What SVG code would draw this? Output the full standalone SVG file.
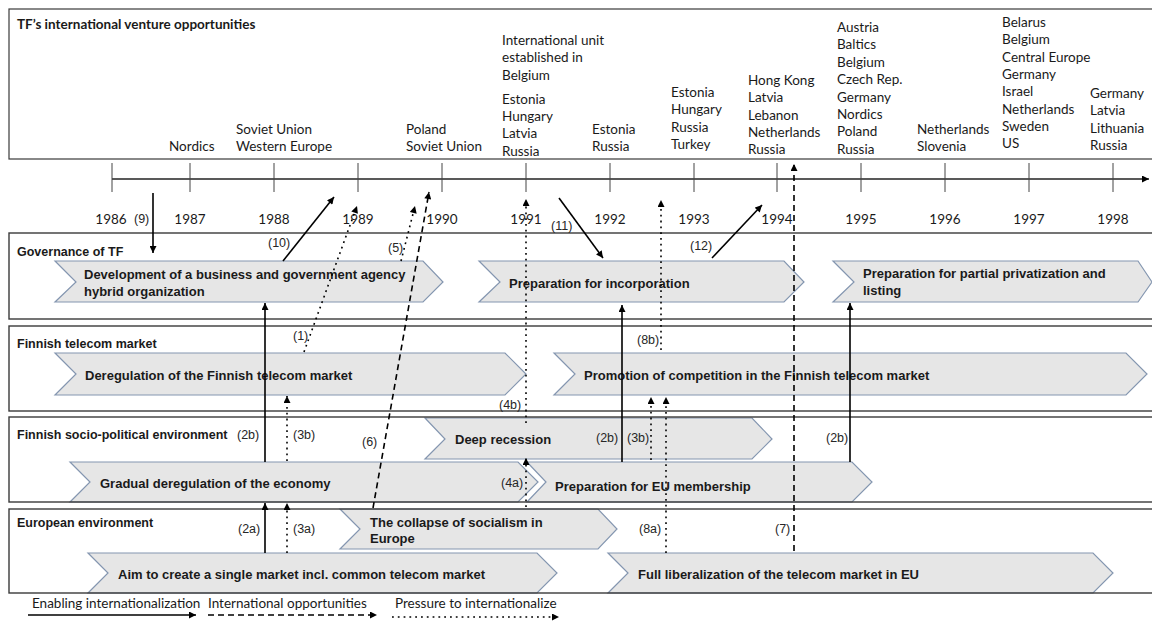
<svg xmlns="http://www.w3.org/2000/svg" width="1152" height="622" viewBox="0 0 1152 622">
<defs>
<style>
.cal{font-family:Lato,"Open Sans","DejaVu Sans",sans-serif;font-size:13.5px;fill:#1a1a1a}
.calb{font-family:Lato,"Open Sans","DejaVu Sans",sans-serif;font-size:13.5px;font-weight:bold;fill:#1a1a1a}
.lane{fill:none;stroke:#3a3a3a;stroke-width:1.4}
.lanebg{fill:#fff;stroke:none}
.lt{font-family:"Liberation Sans",Arial,sans-serif;font-size:12.5px;font-weight:bold;fill:#1a1a1a}
.chev{fill:#e6e6e6;stroke:#8496b0;stroke-width:1.2}
.ct{font-family:"Liberation Sans",Arial,sans-serif;font-size:13px;font-weight:bold;fill:#1a1a1a}
.num{font-family:"Liberation Sans",Arial,sans-serif;font-size:12.5px;fill:#262626}
.tick{stroke:#444;stroke-width:1}
.c{fill:none;stroke:#000;stroke-width:1.6}
.dash{stroke-dasharray:6 4}
.dot{stroke-dasharray:1.8 4}
</style>
<marker id="ah" viewBox="0 0 10 10" refX="10" refY="5" markerUnits="userSpaceOnUse" markerWidth="8" markerHeight="7" orient="auto">
<path d="M0,0 L10,5 L0,10 z" fill="#000"/>
</marker>
</defs>
<rect width="1152" height="622" fill="#fff"/>

<g id="opportunities">
<rect x="9" y="9" width="1160" height="150" fill="#fff" stroke="#3a3a3a" stroke-width="1.2"/>
<text class="calb" x="17" y="29">TF’s international venture opportunities</text>
<text class="cal" x="169" y="151">Nordics</text>
<text class="cal" x="236" y="134"><tspan x="236">Soviet Union</tspan><tspan x="236" dy="17.3">Western Europe</tspan></text>
<text class="cal" x="406" y="134"><tspan x="406">Poland</tspan><tspan x="406" dy="17.3">Soviet Union</tspan></text>
<text class="cal" x="502" y="45"><tspan x="502">International unit</tspan><tspan x="502" dy="17.3">established in</tspan><tspan x="502" dy="17.3">Belgium</tspan><tspan x="502" dy="24">Estonia</tspan><tspan x="502" dy="17.3">Hungary</tspan><tspan x="502" dy="17.3">Latvia</tspan><tspan x="502" dy="17.3">Russia</tspan></text>
<text class="cal" x="592" y="134"><tspan x="592">Estonia</tspan><tspan x="592" dy="17.3">Russia</tspan></text>
<text class="cal" x="671" y="97"><tspan x="671">Estonia</tspan><tspan x="671" dy="17.3">Hungary</tspan><tspan x="671" dy="17.3">Russia</tspan><tspan x="671" dy="17.3">Turkey</tspan></text>
<text class="cal" x="748" y="85"><tspan x="748">Hong Kong</tspan><tspan x="748" dy="17.3">Latvia</tspan><tspan x="748" dy="17.3">Lebanon</tspan><tspan x="748" dy="17.3">Netherlands</tspan><tspan x="748" dy="17.3">Russia</tspan></text>
<text class="cal" x="837" y="32"><tspan x="837">Austria</tspan><tspan x="837" dy="17.4">Baltics</tspan><tspan x="837" dy="17.4">Belgium</tspan><tspan x="837" dy="17.4">Czech Rep.</tspan><tspan x="837" dy="17.4">Germany</tspan><tspan x="837" dy="17.4">Nordics</tspan><tspan x="837" dy="17.4">Poland</tspan><tspan x="837" dy="17.4">Russia</tspan></text>
<text class="cal" x="917" y="134"><tspan x="917">Netherlands</tspan><tspan x="917" dy="17.3">Slovenia</tspan></text>
<text class="cal" x="1002" y="27"><tspan x="1002">Belarus</tspan><tspan x="1002" dy="17.3">Belgium</tspan><tspan x="1002" dy="17.3">Central Europe</tspan><tspan x="1002" dy="17.3">Germany</tspan><tspan x="1002" dy="17.3">Israel</tspan><tspan x="1002" dy="17.3">Netherlands</tspan><tspan x="1002" dy="17.3">Sweden</tspan><tspan x="1002" dy="17.3">US</tspan></text>
<text class="cal" x="1090" y="98"><tspan x="1090">Germany</tspan><tspan x="1090" dy="17.3">Latvia</tspan><tspan x="1090" dy="17.3">Lithuania</tspan><tspan x="1090" dy="17.3">Russia</tspan></text>
</g>

<g id="timeline">
<line x1="112" y1="179" x2="1149" y2="179" stroke="#222" stroke-width="1.4" marker-end="url(#ah)"/>
<g class="tick">
<line x1="112" y1="163" x2="112" y2="192"/><line x1="190" y1="163" x2="190" y2="192"/><line x1="274" y1="163" x2="274" y2="192"/><line x1="358" y1="163" x2="358" y2="192"/><line x1="442" y1="163" x2="442" y2="192"/><line x1="526" y1="163" x2="526" y2="192"/><line x1="610" y1="163" x2="610" y2="192"/><line x1="694" y1="163" x2="694" y2="192"/><line x1="777" y1="163" x2="777" y2="192"/><line x1="861" y1="163" x2="861" y2="192"/><line x1="945" y1="163" x2="945" y2="192"/><line x1="1029" y1="163" x2="1029" y2="192"/><line x1="1113" y1="163" x2="1113" y2="192"/>
</g>
<g class="cal" text-anchor="middle">
<text x="111" y="224">1986</text><text x="190" y="224">1987</text><text x="274" y="224">1988</text><text x="358" y="224">1989</text><text x="442" y="224">1990</text><text x="526" y="224">1991</text><text x="610" y="224">1992</text><text x="694" y="224">1993</text><text x="777" y="224">1994</text><text x="861" y="224">1995</text><text x="945" y="224">1996</text><text x="1029" y="224">1997</text><text x="1113" y="224">1998</text>
</g>
</g>

<g id="lane-backgrounds">
<rect class="lanebg" x="9" y="233" width="1160" height="86"/>
<rect class="lanebg" x="9" y="326" width="1160" height="85"/>
<rect class="lanebg" x="9" y="417" width="1160" height="85"/>
<rect class="lanebg" x="9" y="509" width="1160" height="84"/>
</g>

<g id="chevron-development">
<polygon class="chev" points="55,261 423,261 443,282 423,302 55,302 76,282"/>
<text class="ct" x="84" y="278.5">Development of a business and government agency</text>
<text class="ct" x="84" y="295.5">hybrid organization</text>
</g>
<g id="chevron-incorporation">
<polygon class="chev" points="479,261 784,261 804,282 784,302 479,302 500,282"/>
<text class="ct" x="509" y="287.5">Preparation for incorporation</text>
</g>
<g id="chevron-privatization">
<polygon class="chev" points="833,261 1138,261 1152,282 1138,302 833,302 854,282"/>
<text class="ct" x="863" y="277.5">Preparation for partial privatization and</text>
<text class="ct" x="863" y="294.5">listing</text>
</g>
<g id="chevron-deregulation-telecom">
<polygon class="chev" points="55,353 505,353 526,374 505,395 55,395 76,374"/>
<text class="ct" x="85" y="379.5">Deregulation of the Finnish telecom market</text>
</g>
<g id="chevron-competition">
<polygon class="chev" points="554,353 1126,353 1147,374 1126,395 554,395 575,374"/>
<text class="ct" x="584" y="379.5">Promotion of competition in the Finnish telecom market</text>
</g>
<g id="chevron-recession">
<polygon class="chev" points="425,418 752,418 772,439 752,459 425,459 445,439"/>
<text class="ct" x="455" y="443.5">Deep recession</text>
</g>
<g id="chevron-gradual">
<polygon class="chev" points="70,462 518,462 538,482 518,502 70,502 90,482"/>
<text class="ct" x="100" y="487.5">Gradual deregulation of the economy</text>
</g>
<g id="chevron-eu-membership">
<polygon class="chev" points="527,462 852,462 872,482 852,502 527,502 546,482"/>
<text class="ct" x="555" y="491">Preparation for EU membership</text>
</g>
<g id="chevron-collapse">
<polygon class="chev" points="340,509 598,509 617,529 598,549 340,549 360,529"/>
<text class="ct" x="370" y="526.5">The collapse of socialism in</text>
<text class="ct" x="370" y="542.5">Europe</text>
</g>
<g id="chevron-single-market">
<polygon class="chev" points="88,553 537,553 557,573 537,593 88,593 108,573"/>
<text class="ct" x="118" y="578.5">Aim to create a single market incl. common telecom market</text>
</g>
<g id="chevron-liberalization">
<polygon class="chev" points="608,553 1093,553 1113,573 1093,593 608,593 628,573"/>
<text class="ct" x="638" y="578.5">Full liberalization of the telecom market in EU</text>
</g>

<g id="lanes">
<rect class="lane" x="9" y="233" width="1160" height="86"/>
<text class="lt" x="17" y="255.5">Governance of TF</text>
<rect class="lane" x="9" y="326" width="1160" height="85"/>
<text class="lt" x="17" y="347.5">Finnish telecom market</text>
<rect class="lane" x="9" y="417" width="1160" height="85"/>
<text class="lt" x="17" y="438.5">Finnish socio-political environment</text>
<rect class="lane" x="9" y="509" width="1160" height="84"/>
<text class="lt" x="17" y="526.5">European environment</text>
</g>

<g id="connectors">
<line class="c" x1="153" y1="193" x2="153" y2="253" marker-end="url(#ah)"/>
<line class="c" x1="283" y1="261" x2="334" y2="197" marker-end="url(#ah)"/>
<line class="c dot" x1="304" y1="352" x2="357" y2="206" marker-end="url(#ah)"/>
<line class="c dot" x1="401" y1="261" x2="415" y2="206" marker-end="url(#ah)"/>
<line class="c dash" x1="373" y1="508" x2="429" y2="192" marker-end="url(#ah)"/>
<line class="c" x1="265" y1="553" x2="265" y2="503" marker-end="url(#ah)"/>
<line class="c" x1="265" y1="462" x2="265" y2="303" marker-end="url(#ah)"/>
<line class="c dot" x1="287" y1="553" x2="287" y2="503" marker-end="url(#ah)"/>
<line class="c dot" x1="287" y1="461" x2="287" y2="396" marker-end="url(#ah)"/>
<line class="c dot" x1="526" y1="507" x2="526" y2="458" marker-end="url(#ah)"/>
<line class="c dot" x1="526" y1="423" x2="526" y2="199" marker-end="url(#ah)"/>
<line class="c" x1="559" y1="198" x2="603" y2="258" marker-end="url(#ah)"/>
<line class="c" x1="712" y1="258" x2="762" y2="205" marker-end="url(#ah)"/>
<line class="c dot" x1="661" y1="350" x2="661" y2="200" marker-end="url(#ah)"/>
<line class="c" x1="622" y1="462" x2="622" y2="305" marker-end="url(#ah)"/>
<line class="c dot" x1="651" y1="460" x2="651" y2="397" marker-end="url(#ah)"/>
<line class="c dot" x1="666" y1="553" x2="666" y2="397" marker-end="url(#ah)"/>
<line class="c dash" x1="794" y1="551" x2="794" y2="164" marker-end="url(#ah)"/>
<line class="c" x1="850" y1="462" x2="850" y2="303" marker-end="url(#ah)"/>
</g>

<g id="connector-labels" class="num">
<text x="134" y="223">(9)</text>
<text x="268" y="247">(10)</text>
<text x="293" y="340">(1)</text>
<text x="388" y="252">(5)</text>
<text x="362" y="446">(6)</text>
<text x="238" y="533">(2a)</text>
<text x="237" y="439">(2b)</text>
<text x="293" y="533">(3a)</text>
<text x="293" y="439">(3b)</text>
<text x="501" y="487">(4a)</text>
<text x="499" y="409">(4b)</text>
<text x="551" y="230">(11)</text>
<text x="690" y="250">(12)</text>
<text x="637" y="344">(8b)</text>
<text x="596" y="442">(2b)</text>
<text x="627" y="442">(3b)</text>
<text x="639" y="533">(8a)</text>
<text x="775" y="533">(7)</text>
<text x="826" y="442">(2b)</text>
</g>

<g id="legend">
<text class="cal" x="32" y="608">Enabling internationalization</text>
<line class="c" x1="28" y1="615" x2="196" y2="615" marker-end="url(#ah)"/>
<text class="cal" x="208" y="608">International opportunities</text>
<line class="c dash" x1="208" y1="615" x2="377" y2="615" marker-end="url(#ah)"/>
<text class="cal" x="395" y="608">Pressure to internationalize</text>
<line class="c dot" x1="392" y1="617" x2="559" y2="617" marker-end="url(#ah)"/>
</g>
</svg>
